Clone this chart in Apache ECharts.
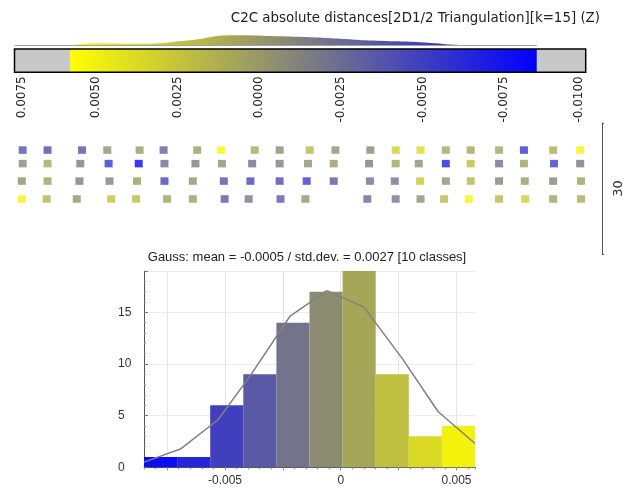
<!DOCTYPE html>
<html><head><meta charset="utf-8">
<script src="https://cdn.jsdelivr.net/npm/echarts@6/dist/echarts.min.js"></script>
<style>html,body{margin:0;padding:0;background:#fff}#c{width:624px;height:488px}</style>
</head><body><div id="c"></div><script>
const chartTitle = 'C2C absolute distances[2D1/2 Triangulation][k=15] (Z)';
const histTitle = 'Gauss: mean = -0.0005 / std.dev. = 0.0027 [10 classes]';
const sfMin = -0.0085, sfMax = 0.0058;
const scaleMin = -0.0100, scaleMax = 0.0075, scaleStep = 0.0025;
const classCounts = [1, 1, 6, 9, 14, 17, 19, 9, 3, 4];
const gaussX = [-0.0085, -0.0069, -0.0053, -0.0039, -0.0022, -0.0006, 0.0010, 0.0027, 0.0042, 0.0058];
const gaussY = [0.5, 1.8, 4.6, 8.9, 14.6, 17.1, 15.5, 10.4, 5.4, 2.3];
const histXLabels = [-0.005, 0, 0.005];
const histXTicks = [-0.0075, -0.005, -0.0025, 0, 0.0025, 0.005];
const histYMax = 19;
const scaleBarLength = 30;
const rowY = [23.8, 20.7, 16.7, 12.6];
const row1X = [5.2, 10.9, 18.8, 24.6, 32.0, 37.5, 45.2, 50.7, 58.4, 64.1, 71.0, 76.9, 84.9, 90.7, 96.4, 102.2, 107.9, 114.4, 120.1, 126.8, 133.0];
const row1V = [-0.0038, -0.0041, -0.0038, -0.0004, 0.0002, -0.0032, 0.0002, 0.0054, 0.0008, -0.0006, 0.0018, -0.0004, -0.0009, 0.0032, 0.0037, 0.0008, 0.0007, 0.0008, -0.0054, 0.0011, 0.0051];
const row2X = [5.2, 10.9, 18.4, 24.9, 31.8, 37.7, 44.8, 50.9, 57.8, 64.1, 70.6, 76.5, 84.6, 90.7, 96.0, 102.2, 107.9, 114.4, 120.1, 127.0, 133.0];
const row2V = [-0.0009, 0.0008, -0.0016, -0.0056, -0.0081, -0.0025, -0.0016, -0.0004, -0.0025, -0.0015, -0.0004, 0.0002, -0.0015, 0.0007, -0.0005, -0.0066, 0.0022, -0.0022, 0.0004, -0.0049, -0.0018];
const row3X = [5.0, 10.9, 18.2, 25.1, 31.4, 37.7, 44.2, 51.3, 57.4, 64.1, 70.3, 76.5, 84.8, 90.5, 96.3, 102.2, 107.9, 114.4, 120.3, 126.8, 133.2];
const row3V = [-0.0004, 0.0004, -0.0015, -0.0013, 0.0002, -0.0048, -0.0002, -0.0039, -0.0046, -0.0041, -0.0052, -0.0036, -0.0022, -0.0021, 0.0027, -0.0004, 0.0017, -0.0012, 0.0002, -0.0012, 0.0004];
const row4X = [5.0, 10.7, 17.6, 25.5, 31.2, 38.3, 44.2, 51.5, 57.0, 64.3, 70.0, 84.2, 90.7, 96.4, 101.8, 107.5, 114.4, 120.4, 126.8, 133.2];
const row4V = [0.0052, 0.0016, -0.0002, 0.0024, 0.0019, 0.0005, 0.0002, -0.0035, -0.0019, -0.0035, -0.0002, -0.0026, -0.0019, -0.0004, 0.0018, 0.0052, 0.0019, 0.0030, 0.0005, 0.0011];
const colorRamp = ['#0000ff', '#ffff00'];

const nClasses = classCounts.length;
const classW = (sfMax - sfMin) / nClasses;
const histData = classCounts.map((c, i) => { const s = sfMin + i * classW; return [s + classW / 2, c, s, s + classW]; });
const silhouette = [[sfMin, 0]].concat(histData.map(d => [d[0], d[1]])).concat([[sfMax, 0]]);
const rows = [[row1X, row1V], [row2X, row2V], [row3X, row3V], [row4X, row4V]];
const points = [];
rows.forEach(([xs, vs], r) => xs.forEach((x, i) => points.push([x, rowY[r], vs[i]])));
const gaussData = gaussX.map((x, i) => [x, gaussY[i]]);

const chart = echarts.init(document.getElementById('c'), null, {renderer: 'canvas'});
const F1 = 'DejaVu Sans', F2 = 'Liberation Sans';
chart.setOption({
  animation: false,
  backgroundColor: '#ffffff',
  title: [
    {text: chartTitle, right: 24, top: 12, padding: 0,
     textStyle: {fontFamily: F1, fontSize: 13.4, fontWeight: 'normal', color: '#222', lineHeight: 14}},
    {text: histTitle, left: 307, textAlign: 'center', top: 250, padding: 0,
     textStyle: {fontFamily: F2, fontSize: 13, fontWeight: 'normal', color: '#222', lineHeight: 14}}
  ],
  grid: [
    {left: 14.5, right: 38.3, top: 33, height: 12.5, outerBoundsMode: 'none', containLabel: false},
    {left: 14.5, right: 38.3, top: 49, height: 23.3, show: true, backgroundColor: '#c8c8c8', borderWidth: 0, outerBoundsMode: 'none', containLabel: false},
    {left: 0, right: 22, top: 123, height: 131, outerBoundsMode: 'none', containLabel: false},
    {left: 144, right: 149, top: 271, height: 196.3, outerBoundsMode: 'none', containLabel: false}
  ],
  xAxis: [
    {gridIndex: 0, type: 'value', min: scaleMin, max: scaleMax, inverse: true, show: false},
    {gridIndex: 1, type: 'value', min: scaleMin, max: scaleMax, interval: scaleStep, inverse: true,
     axisLine: {show: false}, axisTick: {show: false}, splitLine: {show: false},
     axisLabel: {rotate: 90, margin: 4, fontFamily: F1, fontSize: 12, color: '#222',
       formatter: v => {
         const s = v.toFixed(4);
         if (Math.abs(v - scaleMax) < 1e-9) return '{l|' + s + '}';
         if (Math.abs(v - scaleMin) < 1e-9) return '{r|' + s + '}';
         return s;
       },
       rich: {l: {fontFamily: F1, fontSize: 12, color: '#222', padding: [14, 0, 0, 0]},
              r: {fontFamily: F1, fontSize: 12, color: '#222', padding: [0, 0, 14, 0]}}}},
    {gridIndex: 2, type: 'value', min: 0, max: 138, show: false},
    {gridIndex: 3, type: 'value', min: sfMin, max: sfMax, position: 'bottom',
     axisLine: {show: true, onZero: false, lineStyle: {color: '#555', width: 1}},
     axisTick: {show: true, customValues: histXTicks, length: 3, lineStyle: {color: '#777'}},
     axisLabel: {customValues: histXLabels, margin: 7, fontFamily: F2, fontSize: 12, color: '#333',
       formatter: v => (Math.abs(v) < 1e-12 ? '0' : String(+v.toFixed(4)))},
     splitLine: {show: true, lineStyle: {color: '#e6e6e6', width: 1}}},
    {gridIndex: 3, type: 'value', min: sfMin, max: sfMax, interval: 0.0005, position: 'bottom',
     axisLine: {show: false, onZero: false}, axisTick: {show: true, length: 2, lineStyle: {color: '#888'}},
     axisLabel: {show: false}, splitLine: {show: false}}
  ],
  yAxis: [
    {gridIndex: 0, type: 'value', min: 0, max: 23, show: false},
    {gridIndex: 1, type: 'value', min: 0, max: 1, show: false},
    {gridIndex: 2, type: 'value', min: 0, max: scaleBarLength, interval: scaleBarLength, position: 'right',
     axisLine: {show: true, onZero: false, lineStyle: {color: '#555', width: 1}},
     axisTick: {show: true, length: 2, lineStyle: {color: '#555'}},
     axisLabel: {show: false}, splitLine: {show: false},
     name: String(scaleBarLength), nameLocation: 'middle', nameRotate: 90, nameGap: 10,
     nameTextStyle: {fontFamily: F1, fontSize: 13, color: '#333'}},
    {gridIndex: 3, type: 'value', min: 0, max: histYMax, interval: 5,
     axisLine: {show: true, onZero: false, lineStyle: {color: '#555', width: 1}},
     axisTick: {show: true, inside: true, length: 4, lineStyle: {color: '#777'}},
     minorTick: {show: true, splitNumber: 5, length: 2, lineStyle: {color: '#999'}},
     axisLabel: {align: 'left', margin: 26, fontFamily: F2, fontSize: 12, color: '#333', showMaxLabel: false},
     splitLine: {show: true, lineStyle: {color: '#ececec', width: 1}}}
  ],
  visualMap: [
    {type: 'continuous', show: false, seriesIndex: 2, dimension: 2, min: sfMin, max: sfMax, inRange: {color: colorRamp}},
    {type: 'continuous', show: false, seriesIndex: 3, dimension: 0, min: sfMin, max: sfMax, inRange: {color: colorRamp}}
  ],
  series: [
    {type: 'line', xAxisIndex: 0, yAxisIndex: 0, data: silhouette, smooth: 0.5, symbol: 'none', silent: true,
     lineStyle: {width: 0},
     areaStyle: {opacity: 1, color: new echarts.graphic.LinearGradient(0, 0, 1, 0, [{offset: 0, color: colorRamp[1]}, {offset: 1, color: colorRamp[0]}])},
     markLine: {symbol: 'none', silent: true, label: {show: false}, lineStyle: {color: '#a0a0a0', width: 1, type: 'solid'},
       data: [[{coord: [scaleMax, 0]}, {coord: [sfMin, 0]}]]}},
    {type: 'custom', xAxisIndex: 1, yAxisIndex: 1, data: [[sfMin, sfMax]], encode: {x: [0, 1]}, silent: true,
     renderItem: (params, api) => {
       const a = api.coord([api.value(1), 1]);
       const b = api.coord([api.value(0), 0]);
       const cs = params.coordSys;
       return {type: 'group', children: [
         {type: 'rect', shape: {x: a[0], y: a[1], width: b[0] - a[0], height: b[1] - a[1]},
          style: {fill: new echarts.graphic.LinearGradient(0, 0, 1, 0, [{offset: 0, color: colorRamp[1]}, {offset: 1, color: colorRamp[0]}])}},
         {type: 'rect', shape: {x: cs.x, y: cs.y, width: cs.width, height: cs.height},
          style: {fill: 'none', stroke: '#000', lineWidth: 1.5}}
       ]};
     }},
    {type: 'scatter', xAxisIndex: 2, yAxisIndex: 2, data: points, symbol: 'rect', symbolSize: [8, 7.5], silent: true},
    {type: 'custom', xAxisIndex: 3, yAxisIndex: 3, data: histData, encode: {x: [0, 2, 3], y: 1}, silent: true,
     renderItem: (params, api) => {
       const p0 = api.coord([api.value(2), api.value(1)]);
       const p1 = api.coord([api.value(3), 0]);
       return {type: 'rect', shape: {x: p0[0], y: p0[1], width: p1[0] - p0[0], height: p1[1] - p0[1]},
               style: {fill: api.visual('color')}};
     }},
    {type: 'line', xAxisIndex: 3, yAxisIndex: 3, data: gaussData, symbol: 'none', z: 5, silent: true,
     lineStyle: {color: '#808080', width: 1.5}}
  ]
});
</script></body></html>
